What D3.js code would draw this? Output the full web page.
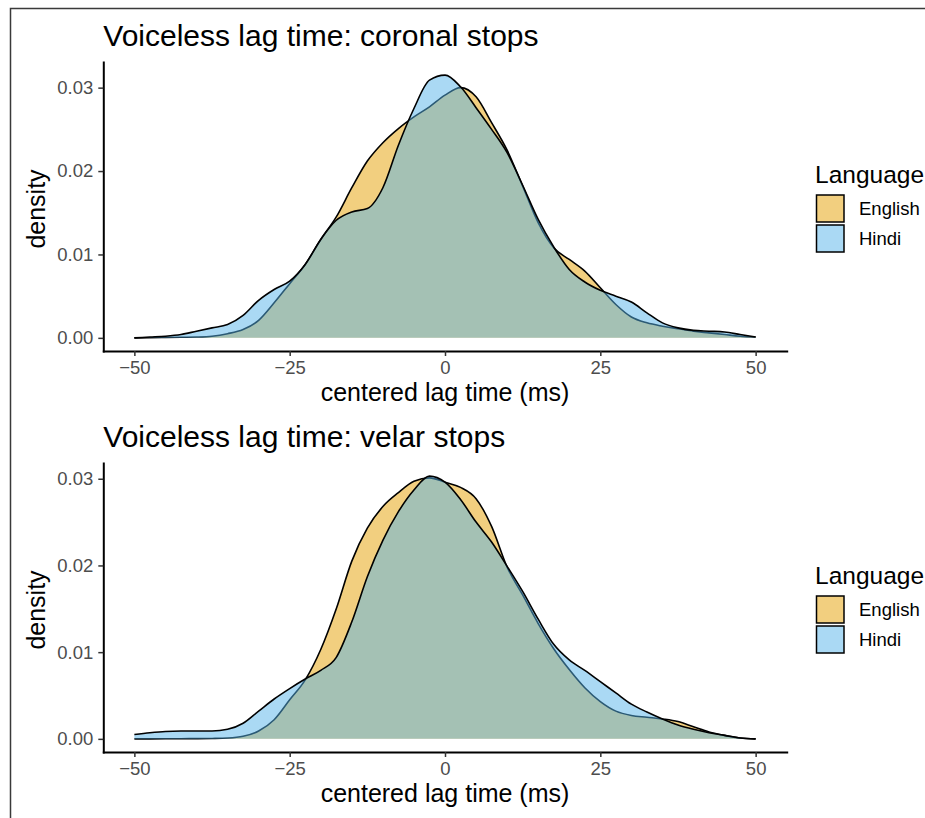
<!DOCTYPE html>
<meta charset="utf-8">
<script src="https://d3js.org/d3.v7.min.js"></script>
<style>
  body { margin: 0; background: #fff; }
  text { font-family: "Liberation Sans", Arial, sans-serif; }
</style>

<div id="my_dataviz"></div>
<script>

  var lagTimes = [-50, -47.5, -45, -42.5, -40, -37.5, -35, -32.5, -30, -27.5,
    -25, -22.5, -20, -17.5, -15, -12.5, -10, -7.5, -5, -2.5,
    0, 2.5, 5, 7.5, 10, 12.5, 15, 17.5, 20, 22.5,
    25, 27.5, 30, 32.5, 35, 37.5, 40, 42.5, 45, 47.5, 50];

  var coronalEnglish = [0, 0.00002, 0.00004, 0.00007, 0.0001, 0.0002, 0.0005, 0.0010, 0.0021, 0.0042,
    0.0065, 0.0088, 0.0118, 0.0145, 0.0180, 0.0212, 0.0234, 0.0251, 0.0265, 0.0277,
    0.0291, 0.0300, 0.0289, 0.0258, 0.0225, 0.0182, 0.0138, 0.0108, 0.0094, 0.0080,
    0.0060, 0.0040, 0.0025, 0.0018, 0.0014, 0.0011, 0.0008, 0.0006, 0.0004, 0.0002, 0.0001];

  var coronalHindi = [0, 0.0001, 0.0002, 0.0004, 0.0008, 0.0012, 0.0016, 0.0027, 0.0045, 0.0058,
    0.0068, 0.0088, 0.0118, 0.0141, 0.0151, 0.0155, 0.0180, 0.0231, 0.0275, 0.0309,
    0.0315, 0.0301, 0.0276, 0.0250, 0.0222, 0.0183, 0.0142, 0.0109, 0.0082, 0.0067,
    0.0057, 0.0050, 0.0043, 0.0030, 0.0018, 0.0012, 0.0009, 0.0008, 0.0007, 0.0004, 0.0001];

  var velarEnglish = [0, 0, 0.00001, 0.00002, 0.00003, 0.00005, 0.0001, 0.0003, 0.0009, 0.0022,
    0.0045, 0.0068, 0.0103, 0.0150, 0.0205, 0.0243, 0.0268, 0.0284, 0.0297, 0.0301,
    0.0296, 0.0290, 0.0277, 0.0245, 0.0198, 0.0166, 0.0133, 0.0104, 0.0080, 0.0059,
    0.0043, 0.0032, 0.0027, 0.0025, 0.0023, 0.0020, 0.0014, 0.0008, 0.0004, 0.0001, 0];

  var velarHindi = [0.0005, 0.0007, 0.00085, 0.0009, 0.0009, 0.0009, 0.0011, 0.0018, 0.0032, 0.0046,
    0.0058, 0.0069, 0.0079, 0.0094, 0.0135, 0.0187, 0.0229, 0.0262, 0.0287, 0.0303,
    0.0296, 0.0276, 0.0250, 0.0227, 0.0199, 0.0170, 0.0138, 0.0109, 0.0091, 0.0079,
    0.0066, 0.0053, 0.0040, 0.0031, 0.0023, 0.0016, 0.0011, 0.0007, 0.0004, 0.0001, 0];

  var xTicks = [-50, -25, 0, 25, 50];
  var yTicks = [0, 0.01, 0.02, 0.03];
  var languages = ["English", "Hindi"];
  var languageColors = ["#E69F00", "#56B4E9"];

  var W = 925, H = 818;

  var svg = d3.select("#my_dataviz")
    .append("svg")
    .attr("width", W)
    .attr("height", H)
    .style("display", "block");

  svg.append("rect").attr("width", W).attr("height", H).attr("fill", "#fff");

  // outer frame (runs off the right and bottom edges)
  svg.append("rect")
    .attr("x", 10.5).attr("y", 8.5)
    .attr("width", 1000).attr("height", 1000)
    .attr("fill", "none")
    .attr("stroke", "#3a3a3a")
    .attr("stroke-width", 1.5);

  function drawPanel(top, title, english, hindi) {
    var g = svg.append("g").attr("transform", "translate(0," + top + ")");
    var panelTop = 62, panelBottom = 351, panelLeft = 103.3, panelRight = 786.7;

    // ggplot-style 5% expansion
    var x = d3.scaleLinear().domain([-55, 55]).range([panelLeft, panelRight]);
    var ymax = d3.max(english.concat(hindi));
    var y = d3.scaleLinear().domain([-0.05 * ymax, 1.05 * ymax]).range([panelBottom, panelTop]);

    var series = [english, hindi];
    series.forEach(function (vals, i) {
      var pts = lagTimes.map(function (t, j) { return [t, vals[j]]; });
      var area = d3.area()
        .x(function (d) { return x(d[0]); })
        .y0(y(0))
        .y1(function (d) { return y(d[1]); })
        .curve(d3.curveMonotoneX);
      var line = d3.line()
        .x(function (d) { return x(d[0]); })
        .y(function (d) { return y(d[1]); })
        .curve(d3.curveMonotoneX);
      g.append("path").datum(pts)
        .attr("d", area)
        .attr("fill", languageColors[i])
        .attr("fill-opacity", 0.5);
      g.append("path").datum(pts)
        .attr("d", line)
        .attr("fill", "none")
        .attr("stroke", "#000")
        .attr("stroke-width", 1.6);
    });

    // axes
    var xAxis = g.append("g")
      .attr("transform", "translate(0," + panelBottom + ")")
      .call(d3.axisBottom(x).tickValues(xTicks).tickSize(5).tickSizeOuter(0).tickPadding(5)
        .tickFormat(function (d) { return d < 0 ? "\u2212" + Math.abs(d) : d; }));
    var yAxis = g.append("g")
      .attr("transform", "translate(" + panelLeft + ",0)")
      .call(d3.axisLeft(y).tickValues(yTicks).tickSize(5).tickSizeOuter(0).tickPadding(5)
        .tickFormat(d3.format(".2f")));

    [xAxis, yAxis].forEach(function (a) {
      a.select(".domain").attr("stroke", "#000").attr("stroke-width", 2).attr("stroke-linecap", "square");
      a.selectAll(".tick line").attr("stroke", "#333").attr("stroke-width", 1.5);
      a.selectAll(".tick text").attr("fill", "#4D4D4D").style("font-size", "18.5px")
        .style("font-family", "'Liberation Sans', Arial, sans-serif");
    });

    g.append("text")
      .attr("x", (panelLeft + panelRight) / 2)
      .attr("y", 401)
      .attr("text-anchor", "middle")
      .style("font-size", "25px")
      .text("centered lag time (ms)");

    g.append("text")
      .attr("transform", "translate(45," + 209 + ") rotate(-90)")
      .attr("text-anchor", "middle")
      .style("font-size", "25px")
      .text("density");

    g.append("text")
      .attr("x", panelLeft)
      .attr("y", 45.7)
      .style("font-size", "30px")
      .text(title);

    // legend
    var leg = g.append("g");
    leg.append("text")
      .attr("x", 815).attr("y", 183)
      .style("font-size", "24.5px")
      .text("Language");
    languages.forEach(function (lang, i) {
      var ky = 195 + i * 30;
      leg.append("rect")
        .attr("x", 816.5).attr("y", ky)
        .attr("width", 27.5).attr("height", 27)
        .attr("fill", languageColors[i])
        .attr("fill-opacity", 0.5)
        .attr("stroke", "#000")
        .attr("stroke-width", 1.5);
      leg.append("text")
        .attr("x", 859).attr("y", ky + 13.5)
        .attr("dy", "0.35em")
        .style("font-size", "18.5px")
        .text(lang);
    });
  }

  drawPanel(0, "Voiceless lag time: coronal stops", coronalEnglish, coronalHindi);
  drawPanel(401, "Voiceless lag time: velar stops", velarEnglish, velarHindi);

</script>
